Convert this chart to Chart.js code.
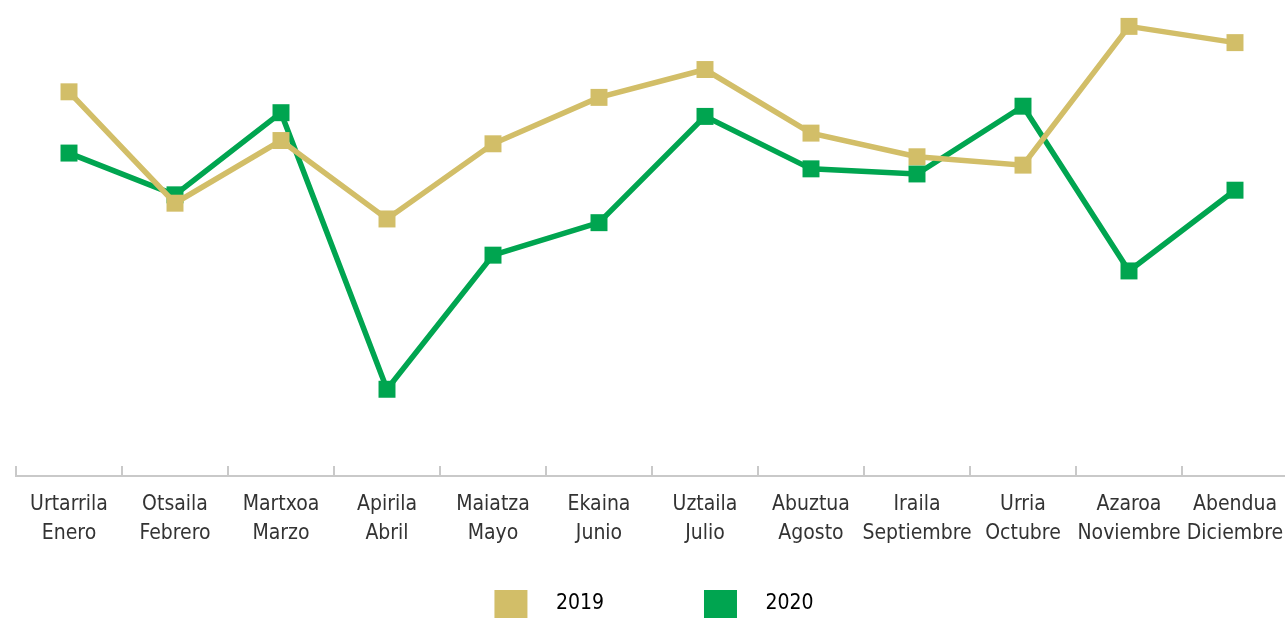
<!DOCTYPE html>
<html lang="eu">
<head>
    <meta charset="UTF-8">
    <title>2019 / 2020</title>
    <style>
        html, body {
            margin: 0;
            padding: 0;
            background: #fff;
            overflow: hidden;
        }
        .wrap {
            position: relative;
            width: 1300px;
            height: 628px;
        }
    </style>
</head>
<body>
    <div class="wrap">
        <canvas id="lineChart"></canvas>
    </div>

    <script src="https://cdn.jsdelivr.net/npm/chart.js"></script>
    <script>
        // month labels, basque + spanish
        const months = [
            ['Urtarrila', 'Enero'],
            ['Otsaila', 'Febrero'],
            ['Martxoa', 'Marzo'],
            ['Apirila', 'Abril'],
            ['Maiatza', 'Mayo'],
            ['Ekaina', 'Junio'],
            ['Uztaila', 'Julio'],
            ['Abuztua', 'Agosto'],
            ['Iraila', 'Septiembre'],
            ['Urria', 'Octubre'],
            ['Azaroa', 'Noviembre'],
            ['Abendua', 'Diciembre']
        ];
        const seriesNames = ['2019', '2020'];
        const values2019 = [82.8, 58.8, 72.3, 55.4, 71.6, 81.6, 87.6, 73.9, 68.8, 67.0, 96.9, 93.4];
        const values2020 = [69.6, 60.6, 78.3, 18.7, 47.6, 54.6, 77.5, 66.2, 65.1, 79.7, 44.2, 61.6];

        const gold = '#d2be68';
        const green = '#00a550';
        const axisGray = '#c9c9c9';
        const fontFam = "'Liberation Sans Narrow', 'DejaVu Sans Condensed', sans-serif";

        // small upward tick marks between the categories
        const upTicks = {
            id: 'upTicks',
            afterDraw(chart) {
                const xs = chart.scales.x;
                const c = chart.ctx;
                const bottom = chart.chartArea.bottom;
                c.save();
                c.strokeStyle = axisGray;
                c.lineWidth = 2;
                for (let i = 0; i < months.length; i++) {
                    const px = Math.round(xs.getPixelForValue(i - 0.5));
                    c.beginPath();
                    c.moveTo(px, bottom - 10);
                    c.lineTo(px, bottom);
                    c.stroke();
                }
                c.restore();
            }
        };

        const ctx = document.getElementById('lineChart').getContext('2d');
        const chart = new Chart(ctx, {
            type: 'line',
            data: {
                labels: months,
                datasets: [{
                    label: seriesNames[0],
                    data: values2019,
                    borderColor: gold,
                    backgroundColor: gold,
                    borderWidth: 5.5,
                    pointStyle: 'rect',
                    pointRadius: 12,
                    pointHoverRadius: 12,
                    pointBorderWidth: 0,
                    tension: 0
                }, {
                    label: seriesNames[1],
                    data: values2020,
                    borderColor: green,
                    backgroundColor: green,
                    borderWidth: 5.5,
                    pointStyle: 'rect',
                    pointRadius: 12,
                    pointHoverRadius: 12,
                    pointBorderWidth: 0,
                    tension: 0
                }]
            },
            options: {
                responsive: true,
                maintainAspectRatio: false,
                animation: false,
                layout: {
                    padding: { left: 16, right: 2, top: 10, bottom: 0 }
                },
                plugins: {
                    tooltip: { enabled: false },
                    legend: {
                        position: 'bottom',
                        labels: {
                            boxWidth: 33,
                            boxHeight: 28,
                            padding: 28,
                            color: '#222',
                            font: { family: fontFam, size: 21 },
                            generateLabels(ch) {
                                return ch.data.datasets.map((ds, i) => ({
                                    text: i === 0 ? '   ' + ds.label + '            ' : '   ' + ds.label + ' ',
                                    fillStyle: ds.backgroundColor,
                                    strokeStyle: ds.backgroundColor,
                                    lineWidth: 0,
                                    hidden: false,
                                    datasetIndex: i
                                }));
                            }
                        }
                    }
                },
                scales: {
                    x: {
                        offset: true,
                        grid: { display: false, drawTicks: false },
                        border: { color: axisGray, width: 2 },
                        ticks: {
                            color: '#333',
                            padding: 14,
                            maxRotation: 0,
                            autoSkip: false,
                            font: { family: fontFam, size: 21, lineHeight: 1.38 }
                        }
                    },
                    y: {
                        display: false,
                        min: 0,
                        max: 100
                    }
                }
            },
            plugins: [upTicks]
        });
    </script>
</body>
</html>
